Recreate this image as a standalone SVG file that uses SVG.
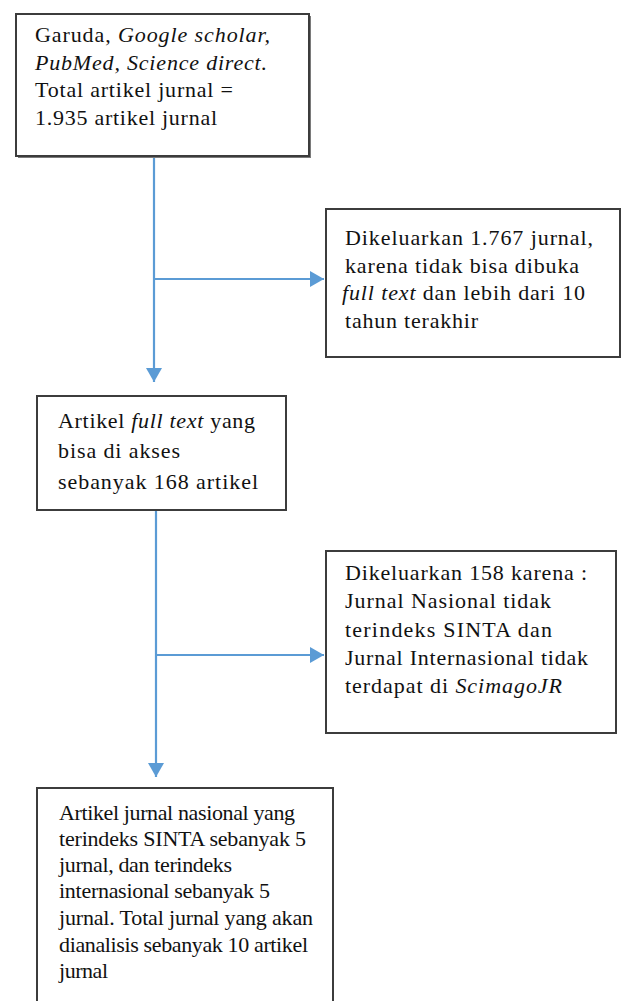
<svg xmlns="http://www.w3.org/2000/svg" width="622" height="1001" viewBox="0 0 622 1001">
  <style>
    .box { fill: #ffffff; stroke: #3c3c3c; stroke-width: 2; }
    .shadow { fill: #7a7a7a; }
    .t { font-family: "Liberation Serif", "Times New Roman", serif; font-size: 22px; fill: #111111; }
    .i { font-style: italic; }
    .conn { stroke: #5b9bd5; stroke-width: 2.2; fill: none; }
  </style>
  <defs>
    <marker id="arrow" markerUnits="userSpaceOnUse" markerWidth="15" markerHeight="16" refX="14" refY="8" orient="auto">
      <path d="M0,0 L14,8 L0,16 z" fill="#5b9bd5"/>
    </marker>
  </defs>
  <rect width="622" height="1001" fill="#ffffff"/>

  <g id="connectors">
    <line class="conn" x1="154" y1="157" x2="154" y2="382" marker-end="url(#arrow)"/>
    <line class="conn" x1="154" y1="279" x2="324" y2="279" marker-end="url(#arrow)"/>
    <line class="conn" x1="156" y1="511" x2="156" y2="777" marker-end="url(#arrow)"/>
    <line class="conn" x1="156" y1="655" x2="324" y2="655" marker-end="url(#arrow)"/>
  </g>

  <g id="node-sources">
    <rect class="shadow" x="18" y="16" width="293" height="142"/>
    <rect class="box" x="16" y="14" width="293" height="142"/>
    <text class="t" x="35" y="42" textLength="235" lengthAdjust="spacing">Garuda, <tspan class="i">Google scholar,</tspan></text>
    <text class="t i" x="35" y="70" textLength="232" lengthAdjust="spacing">PubMed, Science direct.</text>
    <text class="t" x="35" y="97" textLength="198" lengthAdjust="spacing">Total artikel jurnal =</text>
    <text class="t" x="35" y="125" textLength="182" lengthAdjust="spacing">1.935 artikel jurnal</text>
  </g>

  <g id="node-excluded-1">
    <rect class="box" x="326" y="209" width="294" height="148"/>
    <text class="t" x="345" y="245" textLength="248" lengthAdjust="spacing">Dikeluarkan 1.767 jurnal,</text>
    <text class="t" x="345" y="273" textLength="234" lengthAdjust="spacing">karena tidak bisa dibuka</text>
    <text class="t" x="342" y="300" textLength="243" lengthAdjust="spacing"><tspan class="i">full text</tspan> dan lebih dari 10</text>
    <text class="t" x="345" y="328" textLength="133" lengthAdjust="spacing">tahun terakhir</text>
  </g>

  <g id="node-fulltext">
    <rect class="box" x="37" y="396" width="249" height="114"/>
    <text class="t" x="58" y="428" textLength="197" lengthAdjust="spacing">Artikel <tspan class="i">full text</tspan> yang</text>
    <text class="t" x="58" y="458" textLength="122" lengthAdjust="spacing">bisa di akses</text>
    <text class="t" x="58" y="489" textLength="200" lengthAdjust="spacing">sebanyak 168 artikel</text>
  </g>

  <g id="node-excluded-2">
    <rect class="box" x="326" y="551" width="290" height="182"/>
    <text class="t" x="345" y="580" textLength="242" lengthAdjust="spacing">Dikeluarkan 158 karena :</text>
    <text class="t" x="345" y="608" textLength="206" lengthAdjust="spacing">Jurnal Nasional tidak</text>
    <text class="t" x="345" y="637" textLength="207" lengthAdjust="spacing">terindeks SINTA dan</text>
    <text class="t" x="345" y="665" textLength="243" lengthAdjust="spacing">Jurnal Internasional tidak</text>
    <text class="t" x="345" y="693" textLength="217" lengthAdjust="spacing">terdapat di <tspan class="i">ScimagoJR</tspan></text>
  </g>

  <g id="node-final">
    <rect class="box" x="37" y="788" width="296" height="230"/>
    <text class="t" x="59" y="820" textLength="236" lengthAdjust="spacing">Artikel jurnal nasional yang</text>
    <text class="t" x="59" y="846" textLength="247" lengthAdjust="spacing">terindeks SINTA sebanyak 5</text>
    <text class="t" x="59" y="872" textLength="173" lengthAdjust="spacing">jurnal, dan terindeks</text>
    <text class="t" x="59" y="898" textLength="211" lengthAdjust="spacing">internasional sebanyak 5</text>
    <text class="t" x="59" y="925" textLength="254" lengthAdjust="spacing">jurnal. Total jurnal yang akan</text>
    <text class="t" x="59" y="952" textLength="249" lengthAdjust="spacing">dianalisis sebanyak 10 artikel</text>
    <text class="t" x="59" y="978" textLength="49" lengthAdjust="spacing">jurnal</text>
  </g>
</svg>
